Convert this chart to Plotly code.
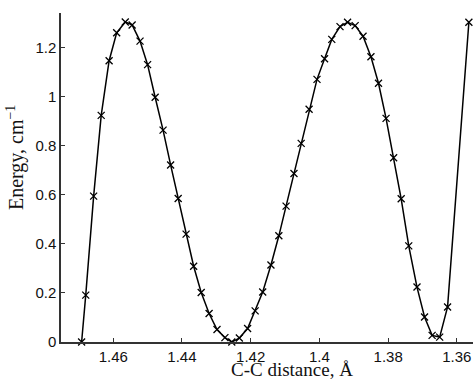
import plotly.graph_objects as go

# C-C distance (Angstrom) and energy (cm^-1)
distance = [1.4692, 1.4680, 1.4657, 1.4635, 1.4612, 1.4590, 1.4565, 1.4545, 1.4522,
            1.4500, 1.4478, 1.4455, 1.4433, 1.4411, 1.4388, 1.4366, 1.4344, 1.4321,
            1.4298, 1.4275, 1.4255, 1.4233, 1.4209, 1.4187, 1.4165, 1.4141, 1.4118,
            1.4097, 1.4074, 1.4053, 1.4030, 1.4007, 1.3985, 1.3964, 1.3940, 1.3918,
            1.3896, 1.3873, 1.3850, 1.3828, 1.3806, 1.3784, 1.3762, 1.3740, 1.3716,
            1.3694, 1.3672, 1.3650, 1.3627, 1.3565]
energy = [0.000, 0.191, 0.595, 0.924, 1.147, 1.261, 1.305, 1.293, 1.227,
          1.131, 0.998, 0.864, 0.722, 0.585, 0.440, 0.309, 0.202, 0.116,
          0.051, 0.018, 0.000, 0.016, 0.055, 0.127, 0.204, 0.314, 0.433,
          0.554, 0.687, 0.810, 0.949, 1.071, 1.155, 1.234, 1.286, 1.304,
          1.290, 1.247, 1.163, 1.055, 0.912, 0.751, 0.584, 0.392, 0.224,
          0.102, 0.027, 0.020, 0.143, 1.304]

x_ticks = [1.46, 1.44, 1.42, 1.40, 1.38, 1.36]
x_tick_labels = ["1.46", "1.44", "1.42", "1.4", "1.38", "1.36"]
y_ticks = [0, 0.2, 0.4, 0.6, 0.8, 1.0, 1.2]
y_tick_labels = ["0", "0.2", "0.4", "0.6", "0.8", "1", "1.2"]

fig = go.Figure()
fig.add_trace(go.Scatter(
    x=distance, y=energy, mode="lines+markers",
    line=dict(color="black", width=1.5),
    marker=dict(symbol="x-thin", size=7, line=dict(color="black", width=1.3)),
    cliponaxis=False, showlegend=False,
))

tick_font = dict(family="Liberation Sans, Arial, sans-serif", size=15, color="#111")
fig.update_layout(
    width=473, height=382,
    margin=dict(l=61, r=0, t=13, b=40),
    paper_bgcolor="white", plot_bgcolor="white",
    xaxis=dict(range=[1.4752, 1.3553], tickvals=x_ticks, ticktext=x_tick_labels,
               ticks="inside", ticklen=4, tickwidth=1.2, tickcolor="#333",
               showline=True, linecolor="#333", linewidth=1.5,
               showgrid=False, zeroline=False, tickfont=tick_font),
    yaxis=dict(range=[0, 1.3416], tickvals=y_ticks, ticktext=y_tick_labels,
               ticks="inside", ticklen=4, tickwidth=1.2, tickcolor="#333",
               showline=True, linecolor="#333", linewidth=1.5,
               showgrid=False, zeroline=False, tickfont=tick_font),
    annotations=[
        dict(text="C-C distance, Å", xref="paper", yref="paper",
             x=0.5607, y=-0.0845, xanchor="center", yanchor="middle", showarrow=False,
             font=dict(family="Liberation Serif, serif", size=19, color="#111")),
        dict(text="Energy, cm<sup>−1</sup>", xref="paper", yref="paper",
             x=-0.1117, y=0.562, xanchor="center", yanchor="middle", showarrow=False,
             textangle=-90,
             font=dict(family="Liberation Serif, serif", size=20, color="#111")),
    ],
)

fig.write_html("out.html")
